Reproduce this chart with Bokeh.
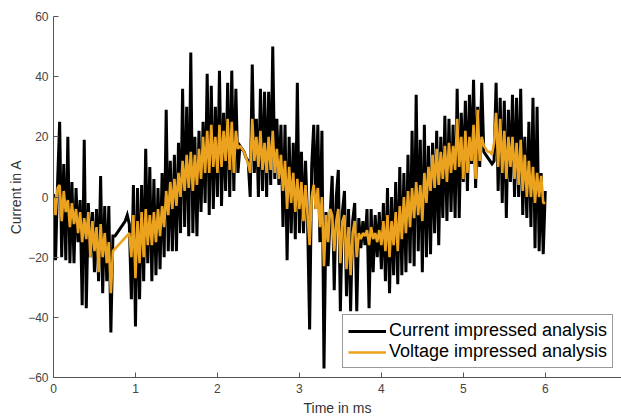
from bokeh.plotting import figure
from bokeh.models import Range1d, FixedTicker, Legend, LegendItem, ColumnDataSource
from bokeh.embed import file_html
from bokeh.resources import INLINE

# ---- data ----
T_STEP = 0.025  # ms between samples

current_A = [
    1, -21, 5, 25, -20, 11, -21, 20,
    -22, 5, -22, 3, -15, -1, -36, 19,
    -37, -2, -20, -5, -25, -4, -28, 7,
    -32, -3, -28, -3, -45, -13, -13, -12,
    -11, -10, -9, -8, -6, -9, -34, 4,
    -43, 3, -34, 4, -28, 16, -22, 10,
    -28, 6, -26, 3, -24, 8, -20, 29,
    -18, 12, -18, 14, -18, 18, -12, 36,
    -10, 30, -13, 48, -12, 20, -13, 22,
    -5, 25, -2, 41, -6, 37, -4, 30,
    0, 42, -3, 28, 2, 38, 0, 42,
    2, 36, 8, 17, 16, 15, 13, 12,
    0, 44, 8, 26, 0, 36, 2, 35,
    0, 35, 4, 50, 6, 26, 4, 24,
    -10, 24, -21, 20, -12, 18, -14, 38,
    -12, 15, -12, 12, -8, -44, 10, 24,
    -4, 24, -15, 22, -57, -5, -23, -6,
    7, -31, 0, 9, -38, -5, 2, -33,
    -4, -38, -8, -2, -38, -7, -17, -8,
    -16, -4, -37, -4, -25, -6, -20, -5,
    -24, -2, -28, 3, -32, 0, -26, 5,
    -29, 10, -26, 8, -25, 14, -22, 22,
    -23, 34, -18, 19, -25, 24, -20, 17,
    -19, 18, -12, 22, -16, 20, -7, 27,
    -8, 26, -5, 24, -7, 36, -7, 28,
    5, 32, 2, 34, 11, 39, 3, 30,
    10, 38, 15, 14, 13, 12, 11, 12,
    38, 2, 33, -2, 32, -7, 29, 5,
    34, 0, 33, 0, 36, -6, 20, -7,
    25, -10, 33, -17, 30, -18, 8, -19,
    2,
]

# None = no sample (gap in the voltage-impressed result)
voltage_A = [
    0, -6, 3, 4, -8, 2, -5, -1,
    -10, -2, -9, -4, -12, -5, -15, -7,
    -14, -5, -20, -8, -18, -10, -25, -9,
    -20, -12, -22, -15, -32, -18, None, None,
    None, None, None, None, None, -12, -20, -6,
    -27, -8, -22, -5, -20, -4, -16, -6,
    -16, -5, -15, -4, -13, -3, -10, 2,
    -6, 5, -4, 6, -3, 8, 0, 12,
    2, 14, 3, 15, 2, 14, 4, 16,
    6, 20, 8, 22, 8, 24, 10, 20,
    8, 24, 10, 22, 12, 26, 9, 25,
    8, 22, 16, 17, 16, 15, 13, 11,
    8, 26, 12, 20, 10, 22, 9, 18,
    8, 20, 9, 22, 8, 16, 6, 14,
    2, 12, -4, 10, -2, 8, -5, 6,
    -4, 5, -8, 4, -6, -16, 0, 4,
    -4, 3, -10, 0, -23, -6, -15, -4,
    -6, -18, -8, -4, -22, -8, -6, -24,
    -10, -26, -12, -8, -20, -12, -14, -12,
    -13, -11, -16, -10, -14, -12, -15, -11,
    -16, -8, -18, -6, -20, -8, -16, -5,
    -18, -3, -14, 0, -12, 2, -10, 3,
    -7, 5, -6, 4, -8, 8, -2, 10,
    2, 14, 3, 16, 4, 15, 6, 17,
    5, 18, 8, 17, 9, 26, 10, 20,
    6, 22, 8, 20, 12, 24, 6, 29,
    12, 20, 17, 16, 15, 15, 14, 18,
    28, 10, 26, 8, 22, 6, 20, 10,
    20, 6, 18, 4, 19, 2, 14, 0,
    12, 0, 10, -2, 8, 0, 7, -2,
    -2,
]

x_ticks = [0, 1, 2, 3, 4, 5, 6]
y_ticks = [-60, -40, -20, 0, 20, 40, 60]
series_names = ["Current impressed analysis", "Voltage impressed analysis"]

# ---- build sources ----
t_cur = [i * T_STEP for i in range(len(current_A))]
t_vol = [i * T_STEP for i, v in enumerate(voltage_A) if v is not None]
v_vol = [v for v in voltage_A if v is not None]

src_cur = ColumnDataSource(dict(t=t_cur, y=current_A))
src_vol = ColumnDataSource(dict(t=t_vol, y=v_vol))

p = figure(width=621, height=418,
           x_range=Range1d(0, 6.93), y_range=Range1d(-60, 60),
           output_backend="svg", toolbar_location=None,
           min_border_left=53, min_border_right=0,
           min_border_top=16, min_border_bottom=41)

r_cur = p.line("t", "y", source=src_cur, line_color="black", line_width=3,
               line_join="miter")
r_vol = p.line("t", "y", source=src_vol, line_color="#EBA21E", line_width=2.6)

p.grid.visible = False
p.outline_line_color = None
p.background_fill_color = "white"
p.border_fill_color = "white"

for ax in (p.xaxis[0], p.yaxis[0]):
    ax.axis_line_color = "#555555"
    ax.axis_line_width = 1
    ax.major_tick_line_color = "#555555"
    ax.major_tick_in = 5
    ax.major_tick_out = 0
    ax.minor_tick_line_color = None
    ax.major_label_text_font = "Liberation Sans"
    ax.major_label_text_font_size = "12px"
    ax.major_label_text_color = "#444444"
    ax.axis_label_text_font = "Liberation Sans"
    ax.axis_label_text_font_size = "14px"
    ax.axis_label_text_font_style = "normal"
    ax.axis_label_text_color = "#333333"

p.xaxis.ticker = FixedTicker(ticks=x_ticks)
p.yaxis.ticker = FixedTicker(ticks=y_ticks)
p.xaxis.axis_label = "Time in ms"
p.yaxis.axis_label = "Current in A"
p.xaxis.major_label_standoff = 6
p.yaxis.major_label_standoff = 5
p.xaxis.axis_label_standoff = 4
p.yaxis.axis_label_standoff = 1

legend = Legend(items=[LegendItem(label=series_names[0], renderers=[r_cur]),
                       LegendItem(label=series_names[1], renderers=[r_vol])],
                location=(289, 9))
legend.label_text_font = "Liberation Sans"
legend.label_text_font_size = "18px"
legend.label_text_color = "black"
legend.glyph_width = 38
legend.glyph_height = 20
legend.label_height = 20
legend.label_standoff = 3
legend.padding = 5
legend.spacing = 0
legend.margin = 0
legend.border_line_color = "#333333"
legend.border_line_width = 1
legend.background_fill_alpha = 1
p.add_layout(legend)

open("out.html", "w").write(file_html(p, INLINE))
